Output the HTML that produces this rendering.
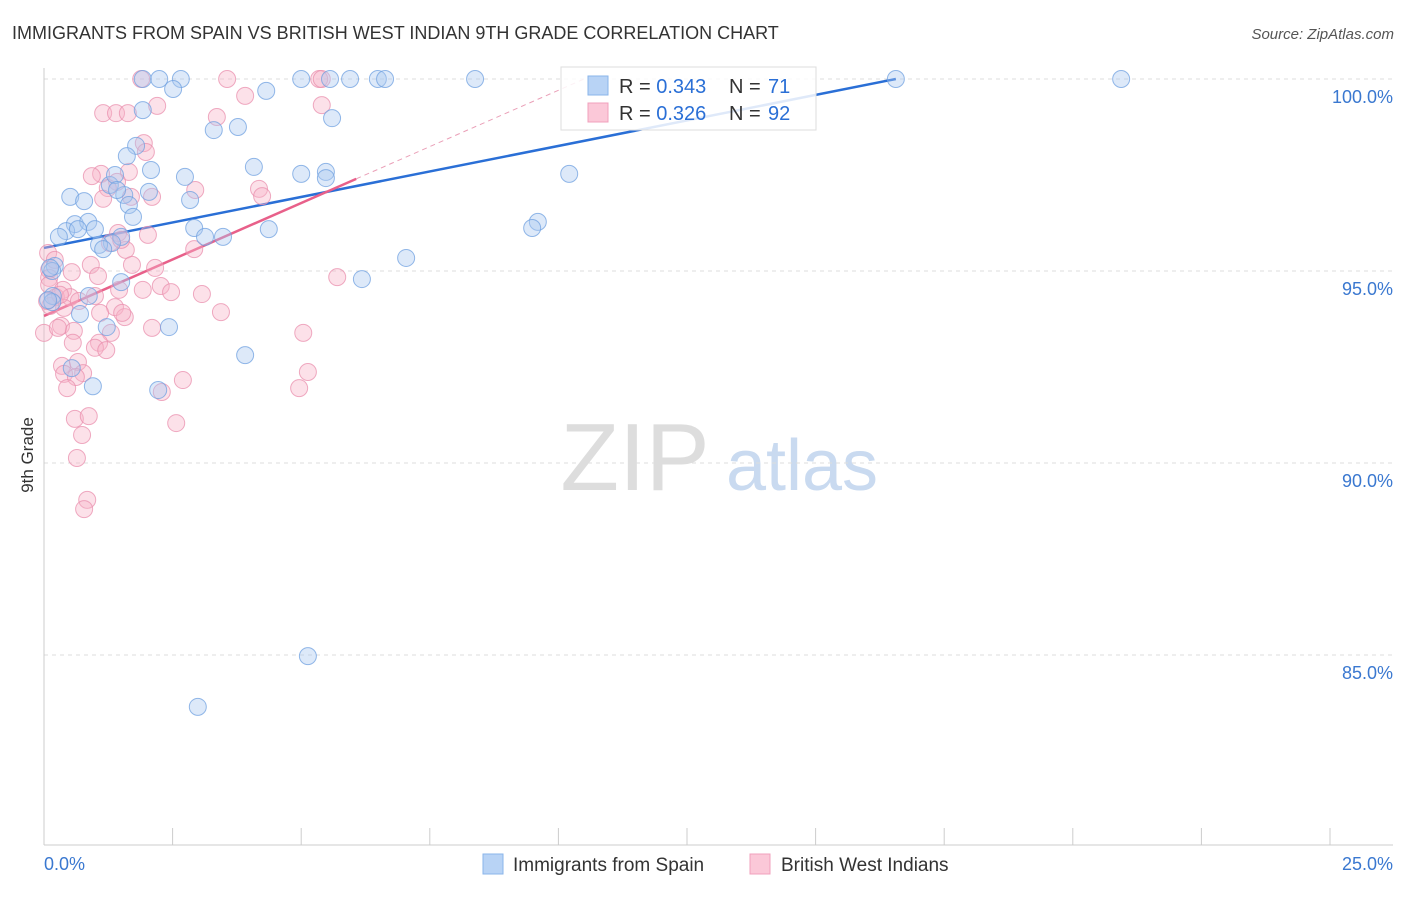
<!DOCTYPE html>
<html><head><meta charset="utf-8"><style>
body{margin:0;background:#fff;width:1406px;height:892px;overflow:hidden;font-family:"Liberation Sans",sans-serif}
svg text{font-family:"Liberation Sans",sans-serif}
</style></head><body>
<svg id="chart" width="1406" height="892">
<text x="12" y="39" font-size="18" fill="#333">IMMIGRANTS FROM SPAIN VS BRITISH WEST INDIAN 9TH GRADE CORRELATION CHART</text>
<text x="1394" y="39" font-size="15" fill="#555" font-style="italic" text-anchor="end">Source: ZipAtlas.com</text>
<text transform="translate(33,455) rotate(-90)" font-size="17" fill="#333" text-anchor="middle">9th Grade</text>
<g><text x="635" y="490" font-size="96" fill="#ddd" font-family="Liberation Serif" text-anchor="middle">ZIP</text><text x="802" y="490" font-size="72" fill="#c9daf0" text-anchor="middle">atlas</text></g>
<g id="grid"></g><g id="axes"></g><g id="lines"></g><g id="pts"></g>
<g>
<rect x="561" y="67" width="255" height="63" fill="#fff" fill-opacity="0.85" stroke="#ddd"/>
<rect x="588" y="76" width="20" height="19" fill="#b8d3f5" stroke="#8ab4ea"/>
<rect x="588" y="103" width="20" height="19" fill="#fbc8d8" stroke="#f0a0bc"/>
<text x="619" y="93" font-size="20" fill="#333">R = <tspan fill="#2a6fd6">0.343</tspan><tspan x="729">N = </tspan><tspan x="768" fill="#2a6fd6">71</tspan></text>
<text x="619" y="120" font-size="20" fill="#333">R = <tspan fill="#2a6fd6">0.326</tspan><tspan x="729">N = </tspan><tspan x="768" fill="#2a6fd6">92</tspan></text>
</g>
<g>
<rect x="483" y="854" width="20" height="20" fill="#b8d3f5" stroke="#8ab4ea"/>
<text x="513" y="871" font-size="19" fill="#333">Immigrants from Spain</text>
<rect x="750" y="854" width="20" height="20" fill="#fbc8d8" stroke="#f0a0bc"/>
<text x="781" y="871" font-size="19" fill="#333">British West Indians</text>
</g>
</svg>
<script>
const blueX=[1.92,2.24,2.66,5.0,5.56,5.95,6.49,6.63,8.38,16.56,20.94,2.51,4.32,1.92,5.60,3.30,3.77,1.79,1.61,4.08,2.08,2.74,5.0,5.48,5.48,10.21,1.28,1.56,2.04,0.51,0.78,1.65,2.84,1.73,0.60,0.86,0.43,0.66,0.99,2.92,4.37,9.60,9.49,0.29,3.13,3.48,1.50,1.32,1.07,1.15,7.04,0.21,0.16,6.18,1.50,0.17,0.87,0.16,0.70,1.22,2.43,3.91,0.54,0.95,2.22,5.13,2.99,0.12,0.08,1.38,1.42];
const blueY=[100,100,100,100,100,100,100,100,100,100,100,99.74,99.69,99.19,98.98,98.67,98.75,98.26,97.99,97.71,97.63,97.45,97.53,97.58,97.42,97.53,97.24,96.98,97.06,96.93,96.82,96.72,96.85,96.41,96.22,96.28,96.04,96.09,96.09,96.12,96.09,96.28,96.12,95.89,95.89,95.89,95.89,95.73,95.68,95.57,95.34,95.13,95.0,94.79,94.71,94.35,94.35,94.19,93.88,93.54,93.54,92.81,92.47,92.0,91.9,84.97,83.65,95.08,94.24,97.5,97.11];
const pinkX=[1.89,3.56,5.35,5.40,3.91,2.20,1.15,1.40,1.63,3.36,5.40,1.94,1.98,1.11,1.65,0.93,1.42,1.24,1.15,1.69,4.18,4.24,2.94,2.10,2.02,1.44,1.28,1.59,2.92,1.71,2.16,0.91,0.54,0.10,0.10,1.05,2.27,1.92,2.47,3.07,1.46,0.10,0.37,0.23,0.99,0.51,1.38,1.09,1.57,3.44,0.0,0.33,0.58,2.10,1.30,5.04,1.07,0.99,1.21,0.56,0.35,0.66,0.39,0.76,0.62,0.45,2.70,5.13,4.96,2.29,0.60,0.87,2.57,0.74,0.64,0.84,0.78,5.70,1.52,0.39,0.27,0.12,0.08,0.06,0.21,0.31,1.50,0.68];
const pinkY=[100,100,100,100,99.56,99.30,99.11,99.11,99.11,99.01,99.32,98.33,98.10,97.53,97.58,97.47,97.32,97.16,96.88,96.93,97.14,96.95,97.11,96.93,95.94,95.99,95.73,95.55,95.57,95.16,95.08,95.16,94.97,95.03,94.82,94.87,94.61,94.51,94.45,94.40,94.51,94.64,94.51,94.32,94.35,94.32,94.06,93.91,93.80,93.93,93.39,93.57,93.44,93.52,93.39,93.39,93.13,93.0,92.94,93.13,92.53,92.63,92.32,92.34,92.24,91.95,92.16,92.37,91.95,91.85,91.15,91.22,91.04,90.73,90.13,89.04,88.80,94.84,93.91,94.04,93.52,94.09,95.47,94.22,95.29,94.38,95.81,94.22];
const yTicks=[100,95,90,85];
const yTickLabels=["100.0%","95.0%","90.0%","85.0%"];
const xLabels=["0.0%","25.0%"];
const blueTrend=[[0,95.6],[16.56,100]];
const pinkTrend=[[0,93.83],[6.07,97.4]];
const pinkDash=[[6.07,97.4],[10.5,100]];
const NS="http://www.w3.org/2000/svg";
const sx=v=>44+v*51.44, sy=v=>79+(100-v)*38.4;
function mk(t,a,p){const e=document.createElementNS(NS,t);for(const k in a)e.setAttribute(k,a[k]);p.appendChild(e);return e;}
const grid=document.getElementById('grid'),axes=document.getElementById('axes');
yTicks.forEach((t,i)=>{
 const l=mk('line',{x1:44,x2:1393,y1:sy(t),y2:sy(t),stroke:'#ddd','stroke-dasharray':'4,4'},grid);
 
 
 const tx=mk('text',{x:1393,y:sy(t)+24,'font-size':18,fill:'#3a78d0','text-anchor':'end'},axes);
 tx.textContent=yTickLabels[i];
 
 
});
const ya=mk('line',{x1:44,x2:44,y1:68,y2:845,stroke:'#ccc'},axes);


const xa=mk('line',{x1:44,x2:1393,y1:845,y2:845,stroke:'#ccc'},axes);


for(let i=0;i<=10;i++){const tk=mk('line',{x1:sx(i*2.5),x2:sx(i*2.5),y1:828,y2:845,stroke:'#ccc'},axes);
 
 }
[[0,'start',44],[25,'end',1393]].forEach((d,i)=>{const t=mk('text',{x:d[2],y:870,'font-size':18,fill:'#3a78d0','text-anchor':d[1]},axes);t.textContent=xLabels[i];
 
 });
const pts=document.getElementById('pts');
function dots(X,Y,fill,stroke,name){X.forEach((x,i)=>{const c=mk('circle',{cx:sx(x),cy:sy(Y[i]),r:8.5,fill:fill,'fill-opacity':0.4,stroke:stroke,'stroke-opacity':0.75,'stroke-width':1},pts);
 
 });}
dots(pinkX,pinkY,'#f7b3c8','#ea8fae','point-british-west-indian');
dots(blueX,blueY,'#a9c8f0','#6fa0e0','point-spain');
const lines=document.getElementById('lines');
function ln(p,col,w,dash,name){const a={x1:sx(p[0][0]),y1:sy(p[0][1]),x2:sx(p[1][0]),y2:sy(p[1][1]),stroke:col,'stroke-width':w};if(dash)a['stroke-dasharray']=dash;const l=mk('line',a,lines);
 
 }
ln(pinkDash,'#eaa0b8',1,'5,4','trend-bwi-extension');
ln(blueTrend,'#2a6fd6',2.5,null,'trend-spain');
ln(pinkTrend,'#e8608a',2.5,null,'trend-bwi');
</script>
</body></html>
